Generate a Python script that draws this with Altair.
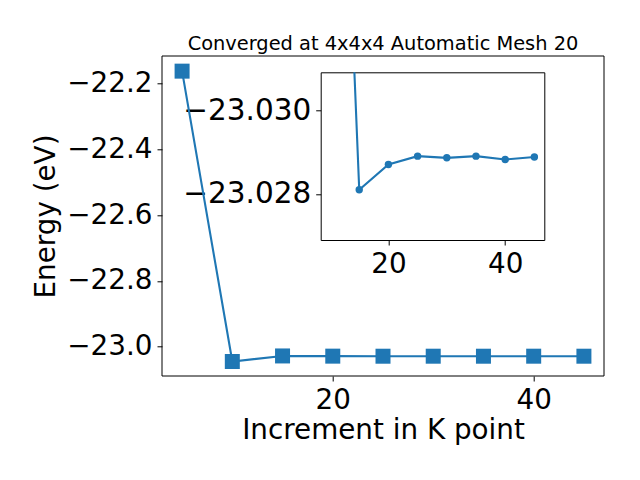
import altair as alt
import pandas as pd

# ---- data ----
kpoints = [5, 10, 15, 20, 25, 30, 35, 40, 45]
energy = [-22.163, -23.045, -23.0281, -23.0287, -23.0289, -23.02886, -23.0289, -23.02882, -23.02888]
inset_start_k = 10   # the inset plots the series from k = 10 on

main_x_ticks = [20, 40]
main_y_ticks = [-23.0, -22.8, -22.6, -22.4, -22.2]
inset_x_ticks = [20, 40]
inset_y_ticks = [-23.030, -23.028]

main_x_domain = [3, 47]
main_y_domain = [-23.089, -22.117]
inset_x_domain = [8.4, 46.7]
inset_y_domain = [-23.0309, -23.0269]   # inverted: more negative at the top

title_text = "Converged at 4x4x4 Automatic Mesh 20"
x_title = "Increment in K point"
y_title = "Energy (eV)"

# ---- layout (pixels) ----
PAGE = 8
IX0, IY0, IX1, IY1 = 320.7, 72.3, 544.3, 240.0      # inset box (absolute)
MX0, MY0, MX1, MY1 = 162.0, 56.0, 604.0, 376.0      # main box (absolute)
IW, IH = IX1 - IX0, IY1 - IY0

BLUE = "#1f77b4"
FONT = "DejaVu Sans"
FS = 27.8

df = pd.DataFrame({"k": kpoints, "E": energy})
frame_df = pd.DataFrame({"x0": [main_x_domain[0]], "x1": [main_x_domain[1]],
                         "y0": [main_y_domain[0]], "y1": [main_y_domain[1]]})

main_x_scale = alt.Scale(domain=main_x_domain, range=[MX0 - IX0, MX1 - IX0], nice=False, zero=False)
main_y_scale = alt.Scale(domain=main_y_domain, range=[MY1 - IY0, MY0 - IY0], nice=False, zero=False)

main_x_axis = alt.Axis(orient="bottom", offset=MY1 - IY1, values=main_x_ticks, format="d",
                       domain=False, grid=False, title=x_title, titlePadding=3)
main_y_axis = alt.Axis(orient="left", offset=IX0 - MX0, values=main_y_ticks, format=".1f",
                       domain=False, grid=False, title=y_title, titlePadding=6)

main_frame = alt.Chart(frame_df).mark_rect(fillOpacity=0, stroke="black", strokeWidth=1).encode(
    x=alt.X("x0:Q", scale=main_x_scale, axis=main_x_axis),
    x2="x1:Q",
    y=alt.Y("y0:Q", scale=main_y_scale, axis=main_y_axis),
    y2="y1:Q",
)
main_line = alt.Chart(df).mark_line(color=BLUE, strokeWidth=2.1).encode(
    x=alt.X("k:Q", scale=main_x_scale),
    y=alt.Y("E:Q", scale=main_y_scale),
)
main_pts = alt.Chart(df).mark_point(shape="square", filled=True, size=225, opacity=1, color=BLUE).encode(
    x=alt.X("k:Q", scale=main_x_scale),
    y=alt.Y("E:Q", scale=main_y_scale),
)
main_layer = alt.layer(main_frame, main_line, main_pts)

inset_x_scale = alt.Scale(domain=inset_x_domain, range=[0, IW], nice=False, zero=False)
inset_y_scale = alt.Scale(domain=inset_y_domain, range=[0, IH], nice=False, zero=False)
inset_x_axis = alt.Axis(orient="bottom", values=inset_x_ticks, format="d", domain=False, grid=False, title=None)
inset_y_axis = alt.Axis(orient="left", values=inset_y_ticks, format=".3f", domain=False, grid=False,
                        title=None, labelFontSize=29.5)

inset_base = alt.Chart(df).transform_filter(alt.datum.k >= inset_start_k)
inset_line = inset_base.mark_line(color=BLUE, strokeWidth=2.1, clip=True).encode(
    x=alt.X("k:Q", scale=inset_x_scale, axis=inset_x_axis),
    y=alt.Y("E:Q", scale=inset_y_scale, axis=inset_y_axis),
)
inset_pts = inset_base.mark_circle(size=55, opacity=1, color=BLUE, clip=True).encode(
    x=alt.X("k:Q", scale=inset_x_scale),
    y=alt.Y("E:Q", scale=inset_y_scale),
)
inset_layer = alt.layer(inset_line, inset_pts)

chart = alt.layer(main_layer, inset_layer).resolve_scale(
    x="independent", y="independent"
).resolve_axis(
    x="independent", y="independent"
).properties(
    width=IW,
    height=IH,
    autosize="none",
    padding={"left": IX0 - PAGE, "top": IY0 - PAGE, "right": 624 - IX1 + PAGE - 2, "bottom": 225},
    title=alt.TitleParams(title_text, anchor="middle", frame="group", fontSize=19.4, font=FONT,
                          fontWeight="normal", color="black", baseline="alphabetic",
                          dx=(MX0 + MX1) / 2 - (IX0 + IX1) / 2, dy=21, offset=7),
).configure_view(
    stroke="black", strokeWidth=1
).configure_axis(
    labelFont=FONT, titleFont=FONT, labelFontSize=FS, titleFontSize=FS,
    labelColor="black", titleColor="black", tickColor="black", tickSize=5, tickWidth=1,
    labelPadding=5, titleFontWeight="normal",
)

chart.save("out.html", embed_options={"renderer": "svg", "actions": False})
